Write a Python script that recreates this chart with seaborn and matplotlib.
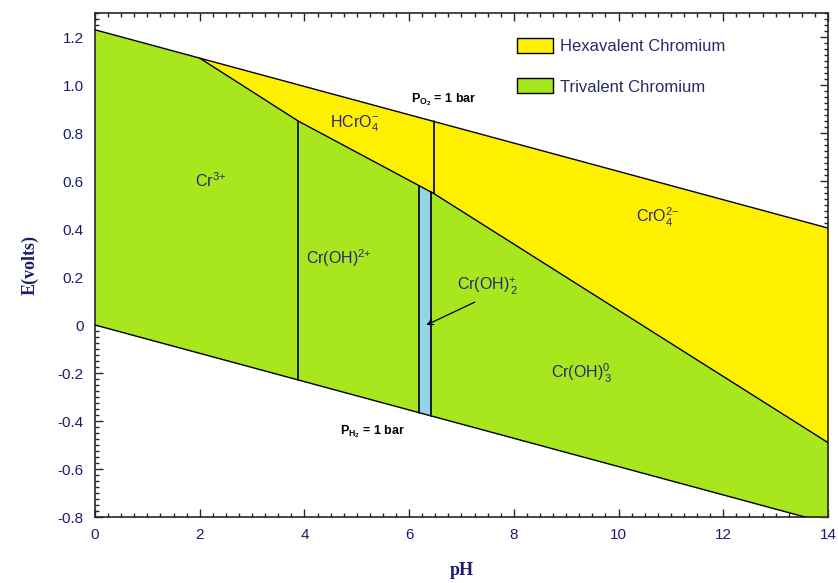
import numpy as np
import matplotlib
matplotlib.use("Agg")
import matplotlib.pyplot as plt
from matplotlib.patches import Patch
from matplotlib.ticker import MultipleLocator
import seaborn as sns

# Water stability limits (E vs pH)
ph_water = [0.0, 14.0]
e_o2 = [1.23, 0.404]      # P_O2 = 1 bar
e_h2 = [0.0, -0.826]      # P_H2 = 1 bar

# Cr(VI) / Cr(III) boundary
bound_ph = [2.0, 3.88, 6.47, 14.0]
bound_e = [1.112, 0.85, 0.548, -0.49]

# Vertical (pH-only) boundaries
cr3_oh_ph = 3.88          # Cr3+ / Cr(OH)2+
oh2_lo, oh2_hi = 6.19, 6.42   # Cr(OH)2+ narrow field
hcro4_cro4_ph = 6.47      # HCrO4- / CrO4 2-

GREEN = "#A8E61E"
YELLOW = "#FFF000"
BLUE = "#93D4E6"
NAVY = "#1c1c6e"
LABEL = "#2a2a66"

sns.set_style("ticks")
plt.rcParams["font.family"] = ["Liberation Sans", "DejaVu Sans"]
plt.rcParams["mathtext.fontset"] = "custom"
plt.rcParams["mathtext.rm"] = "Liberation Sans"
plt.rcParams["mathtext.it"] = "Liberation Sans:italic"
plt.rcParams["mathtext.bf"] = "Liberation Sans:bold"


def o2(x):
    return np.interp(x, ph_water, e_o2)


def h2(x):
    return np.interp(x, ph_water, e_h2)


def bnd(x):
    return np.interp(x, bound_ph, bound_e)


fig = plt.figure(figsize=(8.38, 5.83), dpi=100)
ax = fig.add_axes([0.1134, 0.1132, 0.8746, 0.8645])

# Trivalent field: between H2 line and (O2 line up to pH 2, then boundary)
xg = np.array([0.0] + bound_ph)
upper = np.where(xg <= bound_ph[0], o2(xg), bnd(xg))
ax.fill_between(xg, h2(xg), upper, color=GREEN, lw=0, zorder=1)

# Hexavalent field: between boundary and O2 line
xy = np.array(bound_ph)
ax.fill_between(xy, bnd(xy), o2(xy), color=YELLOW, lw=0, zorder=1)

# Cr(OH)2+ narrow strip
xb = np.array([oh2_lo, oh2_hi])
ax.fill_between(xb, h2(xb), bnd(xb), color=BLUE, lw=0, zorder=2)

# Boundary lines
sns.lineplot(x=ph_water, y=e_o2, color="black", lw=1, ax=ax, zorder=3)
sns.lineplot(x=ph_water, y=e_h2, color="black", lw=1, ax=ax, zorder=3)
sns.lineplot(x=bound_ph, y=bound_e, color="black", lw=1, ax=ax, zorder=3)
for xv in (cr3_oh_ph, oh2_lo, oh2_hi):
    ax.plot([xv, xv], [h2(xv), bnd(xv)], color="black", lw=1.2, zorder=3)
ax.plot([hcro4_cro4_ph, hcro4_cro4_ph], [bnd(hcro4_cro4_ph), o2(hcro4_cro4_ph)],
        color="black", lw=1.2, zorder=3)

# Species labels
fs = 11.5
kw = dict(color=LABEL, fontsize=fs, ha="center", va="center")
ax.text(2.2, 0.6, r"Cr$^{3{+}}$", **kw)
ax.text(4.95, 0.84, r"HCrO$_4^{{-}}$", **kw)
ax.text(4.65, 0.28, r"Cr(OH)$^{2{+}}$", **kw)
ax.text(10.75, 0.45, r"CrO$_4^{2{-}}$", **kw)
ax.text(7.5, 0.16, r"Cr(OH)$^{{+}}_{\,2}$", **kw)
ax.text(9.3, -0.2, r"Cr(OH)$^{0}_{\,3}$", **kw)
ax.annotate("", xy=(6.28, -0.005), xytext=(7.3, 0.1),
            arrowprops=dict(arrowstyle="->", color="black", lw=0.9), zorder=4)
ax.text(6.65, 0.94, r"P$_{\mathbf{O_2}}$ = 1 bar", color="black", fontsize=9,
        ha="center", va="center", fontweight="bold")
ax.text(5.3, -0.445, r"P$_{\mathbf{H_2}}$ = 1 bar", color="black", fontsize=9,
        ha="center", va="center", fontweight="bold")

# Axes
ax.set_xlim(0, 14)
ax.set_ylim(-0.8, 1.3)
ax.xaxis.set_major_locator(MultipleLocator(2))
ax.xaxis.set_minor_locator(MultipleLocator(0.25))
ax.yaxis.set_minor_locator(MultipleLocator(0.025))
yt = np.arange(-0.8, 1.21, 0.2)
ax.set_yticks(yt)
ax.set_yticklabels([f"{v:.1f}" if abs(v) > 1e-9 else "0" for v in yt])
ax.tick_params(which="both", direction="in", top=True, right=True,
               labelsize=11, labelcolor=NAVY, width=1)
ax.tick_params(which="major", length=6, pad=8)
ax.tick_params(which="minor", length=3)
for s in ax.spines.values():
    s.set_linewidth(1.2)

ax.set_xlabel("pH", family="Liberation Serif", fontweight="bold", fontsize=13,
              color=NAVY, labelpad=14)
ax.set_ylabel("E(volts)", family="Liberation Serif", fontweight="bold", fontsize=13,
              color=NAVY, labelpad=14)

handles = [Patch(facecolor=YELLOW, edgecolor="black", label="Hexavalent Chromium"),
           Patch(facecolor=GREEN, edgecolor="black", label="Trivalent Chromium")]
ax.legend(handles=handles, loc="upper left", bbox_to_anchor=(0.555, 0.98),
          frameon=False, fontsize=12, handlelength=2.2, handleheight=1.0,
          labelspacing=1.45, handletextpad=0.4, labelcolor=LABEL)

fig.savefig("out.png", dpi=100)
